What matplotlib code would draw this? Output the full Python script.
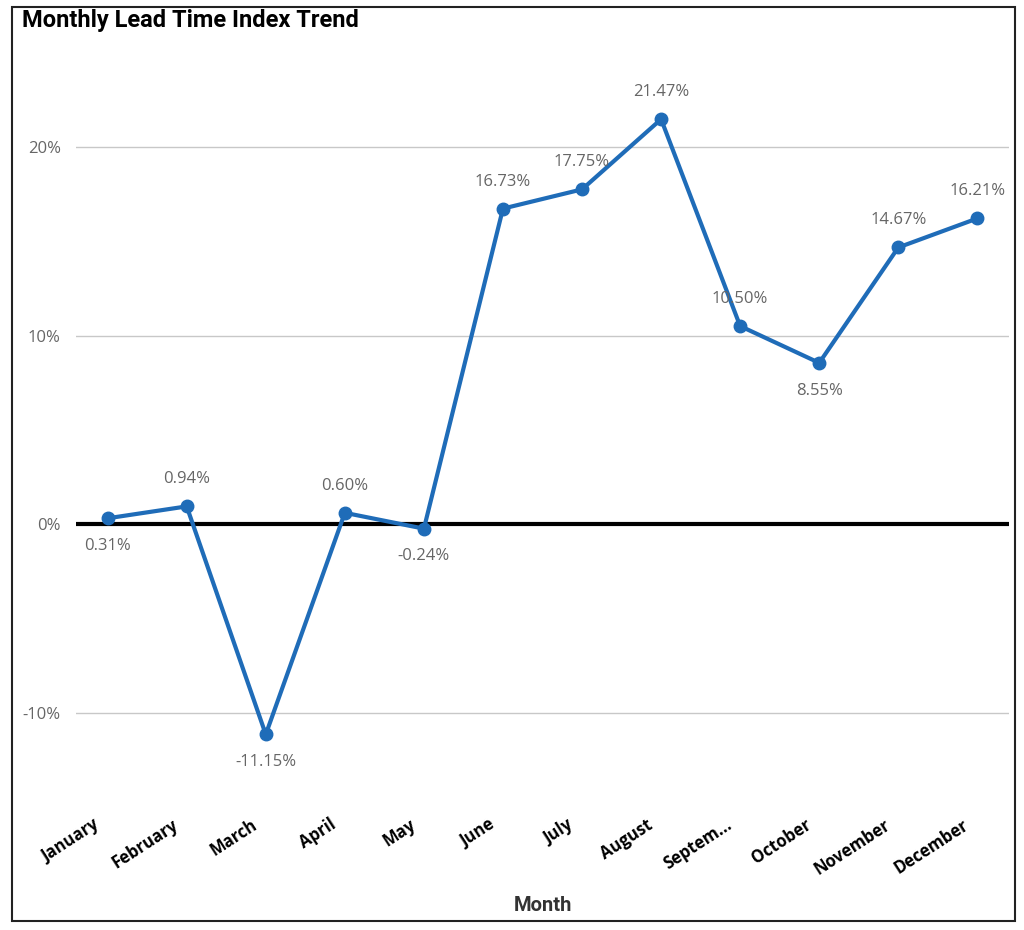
import numpy as np
import matplotlib.pyplot as plt
import matplotlib.transforms as mtrans
from matplotlib.patches import Rectangle
from matplotlib.ticker import FuncFormatter

### DATA
months = ['January', 'February', 'March', 'April', 'May', 'June', 'July',
          'August', 'Septem...', 'October', 'November', 'December']
lead_idx = [0.31, 0.94, -11.15, 0.60, -0.24, 16.73, 17.75, 21.47, 10.50, 8.55, 14.67, 16.21]
label_below = [True, False, True, False, True, False, False, False, False, True, False, False]

### STYLE
blue = '#1f6cb8'
grey = '#666666'

fig = plt.figure(figsize=(10.24, 9.3), dpi=100)
# outer frame like the report tile
fig.patches.append(Rectangle((12/1024, 1 - 921/930), 1003/1024, 914/930,
                             transform=fig.transFigure, fill=False,
                             edgecolor='#222222', linewidth=1.5))

ax = fig.add_axes([76/1024, 1 - 797.6/930, 933/1024, 754.4/930])
x = np.arange(len(months))
ax.plot(x, lead_idx, color=blue, linewidth=3, marker='o', markersize=9, zorder=3)
ax.axhline(0, color='black', linewidth=3, zorder=2)

for i, v in enumerate(lead_idx):
    off = -20 if label_below[i] else 19.5
    ax.annotate('%.2f%%' % v, (x[i], v), xytext=(0, off), textcoords='offset points',
                ha='center', va='center', fontsize=12, color=grey,
                family='Open Sans', zorder=4)

ax.set_xlim(-0.4, 11.4)
ax.set_ylim(-14.5, 25.5)
ax.set_yticks([-10, 0, 10, 20])
ax.yaxis.set_major_formatter(FuncFormatter(lambda v, p: '%d%%' % v))
ax.grid(axis='y', color='#c8c8c8', linewidth=1)
ax.set_axisbelow(True)
for s in ax.spines.values():
    s.set_visible(False)
ax.tick_params(length=0)
ax.tick_params(axis='y', labelsize=12, labelcolor=grey, pad=11)
for t in ax.get_yticklabels():
    t.set_family('Open Sans')

ax.set_xticks(x)
ax.set_xticklabels(months, rotation=33, ha='right', rotation_mode='anchor',
                   fontsize=12, fontweight='bold', family='Open Sans')
ax.tick_params(axis='x', pad=13)
shift = mtrans.ScaledTranslation(-15/100, 0, fig.dpi_scale_trans)
for t in ax.get_xticklabels():
    t.set_transform(t.get_transform() + shift)

fig.text(543/1024, 1 - 905/930, 'Month', ha='center', va='center',
         fontsize=14.5, fontweight='bold', color='#333333', family='Roboto')
fig.text(22/1024, 1 - 21/930, 'Monthly Lead Time Index Trend', ha='left', va='center',
         fontsize=17, fontweight='bold', color='black', family='Roboto')

fig.savefig('out.png', dpi=100)
